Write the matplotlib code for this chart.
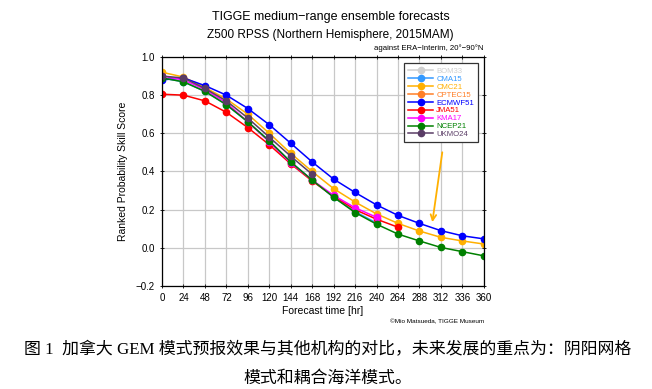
import numpy as np
import matplotlib
matplotlib.use('Agg')
from matplotlib import pyplot as plt

# forecast lead time [hr]
hours = [0, 24, 48, 72, 96, 120, 144, 168, 192, 216, 240, 264, 288, 312, 336, 360]

models = ['BOM33', 'CMA15', 'CMC21', 'CPTEC15', 'ECMWF51', 'JMA51', 'KMA17', 'NCEP21', 'UKMO24']
colors = ['#d0d0d0', '#3399ff', '#ffb000', '#ff7f27', '#0000ff', '#ff0000', '#ff00ff', '#008000', '#5a3d66']

# RPSS (empty = not available)
bom = []
cma = [0.89, 0.87, 0.82, 0.75, 0.66, 0.56, 0.45, 0.355, 0.265, 0.19, 0.13]
cmc = [0.92, 0.895, 0.84, 0.78, 0.70, 0.60, 0.495, 0.40, 0.31, 0.24, 0.178, 0.128, 0.088, 0.055, 0.036, 0.02]
cptec = []
ecmwf = [0.88, 0.89, 0.85, 0.80, 0.73, 0.645, 0.548, 0.45, 0.36, 0.29, 0.225, 0.17, 0.128, 0.09, 0.063, 0.047]
jma = [0.805, 0.80, 0.77, 0.71, 0.63, 0.54, 0.44, 0.35, 0.27, 0.20, 0.15, 0.108]
kma = [0.90, 0.88, 0.83, 0.76, 0.66, 0.555, 0.445, 0.355, 0.275, 0.21, 0.16]
ncep = [0.89, 0.87, 0.82, 0.75, 0.66, 0.56, 0.45, 0.355, 0.265, 0.185, 0.124, 0.072, 0.036, 0.002, -0.02, -0.042]
ukmo = [0.90, 0.89, 0.835, 0.77, 0.68, 0.58, 0.48, 0.385]
series = [bom, cma, cmc, cptec, ecmwf, jma, kma, ncep, ukmo]

plt.rcParams['font.family'] = ['Liberation Sans', 'DejaVu Sans']
plt.rcParams['axes.unicode_minus'] = True

fig = plt.figure(figsize=(6.52, 3.89), dpi=100)
ax = fig.add_axes([0.2485, 0.2648, 0.4935, 0.5887])

for name, c, vals in zip(models, colors, series):
    ax.plot(hours[:len(vals)], vals, color=c, lw=1.1, marker='o', ms=4.5, label=name)

ax.set_xlim(0, 360)
ax.set_ylim(-0.2, 1.0)
ax.set_xticks(hours)
ax.set_yticks(np.arange(-0.2, 1.01, 0.2))
ax.set_yticklabels(['\u22120.2', '0.0', '0.2', '0.4', '0.6', '0.8', '1.0'])
ax.tick_params(labelsize=7, length=3, width=0.6, top=True, right=True, direction='inout')
ax.grid(color='#c8c8c8', lw=0.9)
ax.set_axisbelow(True)
for s in ax.spines.values():
    s.set_linewidth(0.9)
ax.set_xlabel('Forecast time [hr]', fontsize=7.5, labelpad=2)
ax.set_ylabel('Ranked Probability Skill Score', fontsize=7.5, labelpad=6)

# arrow pointing at the CMC curve
ax.annotate('', xy=(302, 0.12), xytext=(314, 0.515),
            arrowprops=dict(arrowstyle='->', color='#ffb000', lw=1.3))

leg = ax.legend(loc='upper right', bbox_to_anchor=(0.995, 0.99), fontsize=5.6, frameon=True,
                fancybox=False, edgecolor='#333333', handlelength=3.2, labelspacing=0.06,
                borderpad=0.55, handletextpad=0.4, framealpha=1)
leg.get_frame().set_linewidth(0.9)
leg.set_zorder(5)
for t, c in zip(leg.get_texts(), colors):
    t.set_color(c)

fig.text(0.507, 0.956, 'TIGGE medium\u2212range ensemble forecasts', ha='center', va='center', fontsize=9)
fig.text(0.507, 0.909, 'Z500 RPSS (Northern Hemisphere, 2015MAM)', ha='center', va='center', fontsize=8.5)
fig.text(0.742, 0.877, 'against ERA\u2212Interim, 20\u00b0\u221290\u00b0N', ha='right', va='center', fontsize=5.6)
fig.text(0.742, 0.172, '\u00a9Mio Matsueda, TIGGE Museum', ha='right', va='center', fontsize=4.6)

cap = ['Liberation Serif', 'Noto Sans CJK SC']
fig.text(0.503, 0.100, '图 1  加拿大 GEM 模式预报效果与其他机构的对比，未来发展的重点为：阴阳网格',
         ha='center', va='center', fontsize=12.2, family=cap)
fig.text(0.503, 0.025, '模式和耦合海洋模式。', ha='center', va='center', fontsize=12.2, family=cap)

plt.savefig('out.png', dpi=100)
